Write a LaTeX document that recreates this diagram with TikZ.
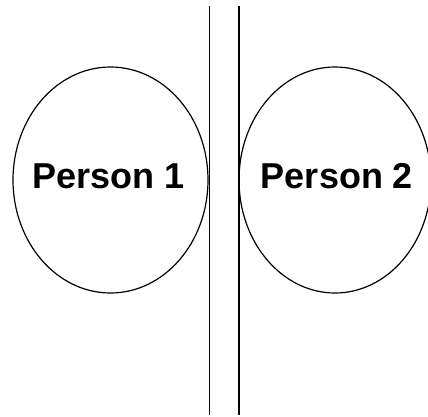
\documentclass[tikz,border=0pt]{standalone}
\usepackage{fontspec}
\setmainfont{Liberation Sans}
\usetikzlibrary{positioning}

\begin{document}
\begin{tikzpicture}[x=1pt,y=-1pt,
    person/.style={font=\fontsize{36}{40}\selectfont\bfseries, inner sep=0pt, anchor=base},
    wall/.style={line width=1.6pt},
    head/.style={line width=1.2pt}]
    \useasboundingbox (0,0) rectangle (428,416);
    % Two walls
    \coordinate (w1top) at (209.3,6);
    \coordinate (w1bot) at (209.3,415);
    \coordinate (w2top) at (238.7,6);
    \coordinate (w2bot) at (238.7,415);
    \draw[wall] (w1top) -- (w1bot);
    \draw[wall] (w2top) -- (w2bot);
    % Persons
    \coordinate (c1) at (110.5,180);
    \coordinate (c2) at (335,180);
    \draw[head] (c1) ellipse (97.5pt and 113pt);
    \draw[head] (c2) ellipse (96pt and 113pt);
    \node[person] (p1) at (108.5,188) {Person 1};
    \node[person] (p2) at (337,188) {Person 2};
\end{tikzpicture}
\end{document}
